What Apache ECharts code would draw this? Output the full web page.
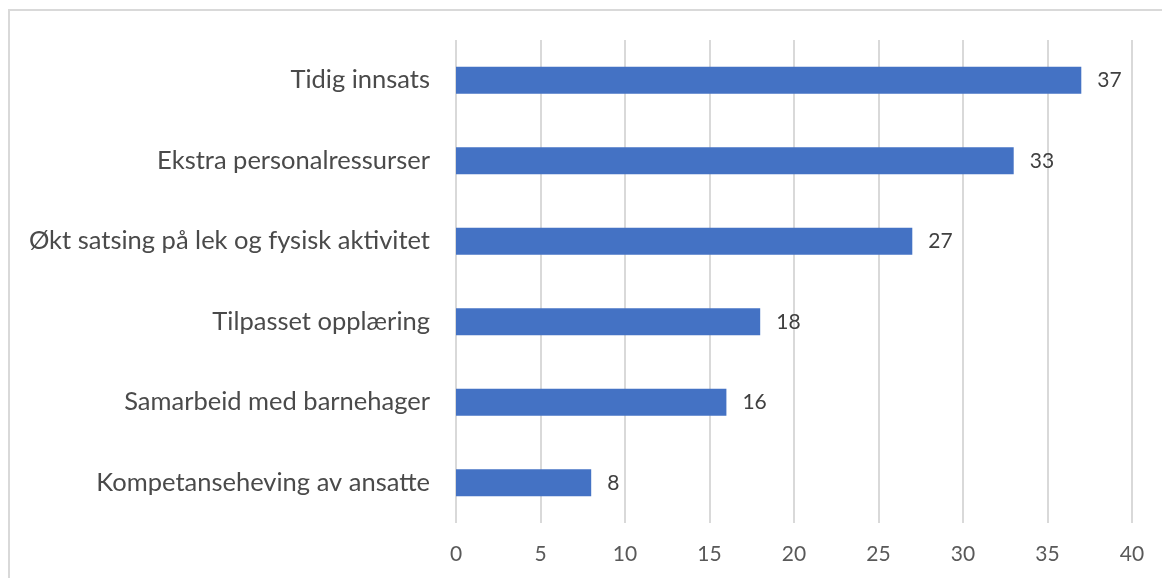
<!DOCTYPE html>
<html>
<head>
<meta charset="utf-8">
<script src="https://cdn.jsdelivr.net/npm/echarts@6/dist/echarts.min.js"></script>
<style>
html,body{margin:0;padding:0;background:#fff;}
#chart{width:1162px;height:578px;}
</style>
</head>
<body>
<div id="chart"></div>
<script>
const categories = [
  "Kompetanseheving av ansatte",
  "Samarbeid med barnehager",
  "Tilpasset opplæring",
  "Økt satsing på lek og fysisk aktivitet",
  "Ekstra personalressurser",
  "Tidig innsats"
];
const values = [8, 16, 18, 27, 33, 37];
const xTicks = { min: 0, max: 40, interval: 5 };

const chart = echarts.init(document.getElementById('chart'), null, {renderer: 'canvas'});
const font = "Lato, 'Open Sans', sans-serif";
chart.setOption({
  animation: false,
  backgroundColor: '#ffffff',
  graphic: [{
    type: 'rect',
    shape: {x: 9, y: 10, width: 1200, height: 620},
    style: {fill: 'none', stroke: '#d9d9d9', lineWidth: 2},
    silent: true
  }],
  grid: {left: 456, right: 30, top: 40, bottom: 55, containLabel: false},
  xAxis: {
    type: 'value',
    min: xTicks.min, max: xTicks.max, interval: xTicks.interval,
    axisLine: {show: false},
    axisTick: {show: false},
    splitLine: {show: true, lineStyle: {color: '#d9d9d9', width: 2}},
    axisLabel: {color: '#595959', fontSize: 21, fontFamily: font, margin: 21}
  },
  yAxis: {
    type: 'category',
    data: categories,
    axisLine: {show: false},
    axisTick: {show: false},
    axisLabel: {color: '#4a4a4a', fontSize: 25.5, fontFamily: font, margin: 26}
  },
  series: [{
    type: 'bar',
    data: values,
    barWidth: 27,
    itemStyle: {color: '#4472C4'},
    label: {
      show: true, position: 'right', distance: 16,
      color: '#404040', fontSize: 21, fontFamily: font
    }
  }]
});
</script>
</body>
</html>
